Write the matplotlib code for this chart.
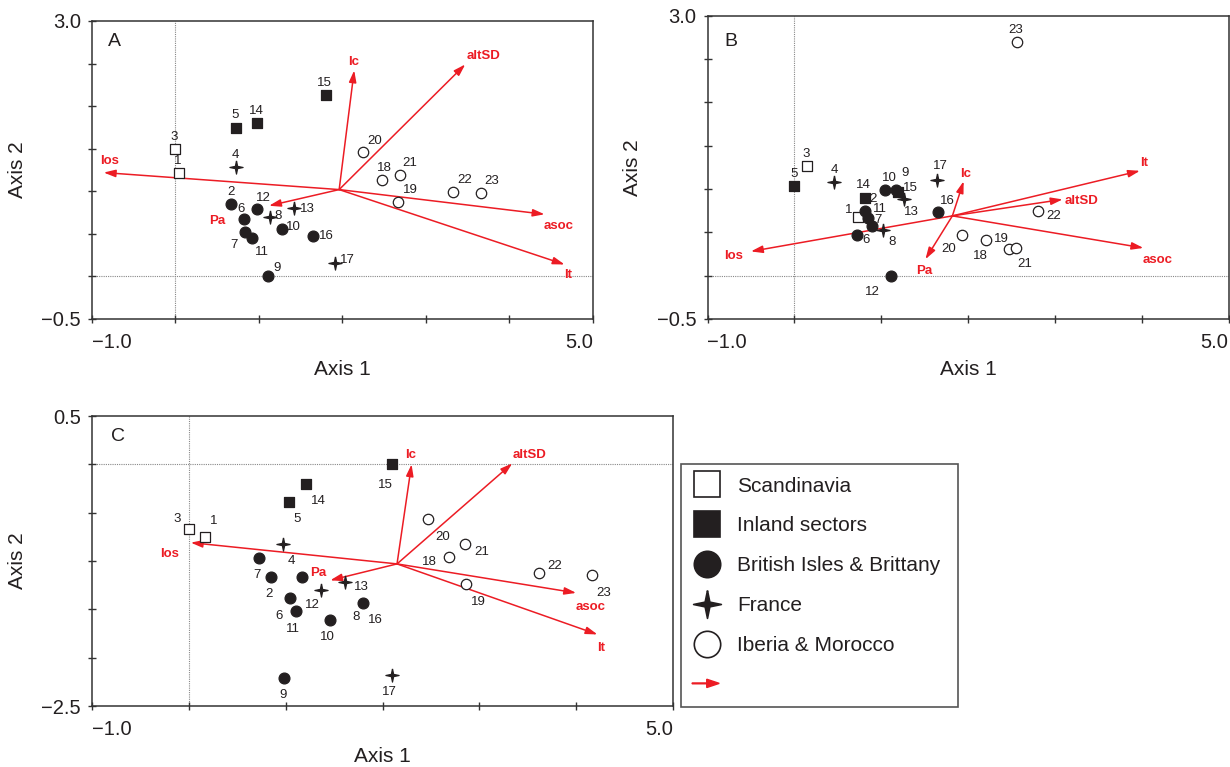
import numpy as np
import matplotlib
matplotlib.use('Agg')
import matplotlib.pyplot as plt
import matplotlib.patches as mpatches
from matplotlib.lines import Line2D
from matplotlib.legend_handler import HandlerPatch

plt.rcParams['font.family'] = ['Liberation Sans', 'DejaVu Sans']

# sites 1..23 and their region
sites = list(range(1, 24))
groups = ['Scandinavia', 'British Isles & Brittany', 'Scandinavia', 'France', 'Inland sectors',
          'British Isles & Brittany', 'British Isles & Brittany', 'France', 'British Isles & Brittany',
          'British Isles & Brittany', 'British Isles & Brittany', 'British Isles & Brittany', 'France',
          'Inland sectors', 'Inland sectors', 'British Isles & Brittany', 'France',
          'Iberia & Morocco', 'Iberia & Morocco', 'Iberia & Morocco', 'Iberia & Morocco',
          'Iberia & Morocco', 'Iberia & Morocco']

# site scores, panel A
a_x = [0.04, 0.66, 0.00, 0.73, 0.72, 0.82, 0.83, 1.13, 1.11, 1.27, 0.92, 0.98,
       1.42, 0.98, 1.80, 1.65, 1.91, 2.47, 2.67, 2.24, 2.69, 3.32, 3.66]
a_y = [1.22, 0.85, 1.50, 1.28, 1.74, 0.67, 0.52, 0.70, 0.00, 0.56, 0.45, 0.79,
       0.80, 1.80, 2.13, 0.47, 0.16, 1.13, 0.87, 1.46, 1.19, 0.99, 0.98]
# panel B
b_x = [0.73, 0.81, 0.15, 0.46, 0.00, 0.72, 0.90, 1.02, 1.17, 1.04, 0.85, 1.11,
       1.26, 0.81, 1.19, 1.66, 1.64, 2.21, 2.47, 1.93, 2.55, 2.81, 2.56]
b_y = [0.68, 0.75, 1.26, 1.08, 1.04, 0.47, 0.57, 0.53, 0.99, 0.99, 0.66, 0.00,
       0.89, 0.90, 0.97, 0.74, 1.10, 0.41, 0.31, 0.47, 0.32, 0.75, 2.70]
# panel C
c_x = [0.17, 0.85, 0.00, 0.97, 1.03, 1.04, 0.72, 1.36, 0.98, 1.46, 1.11, 1.17,
       1.61, 1.21, 2.10, 1.80, 2.10, 2.69, 2.86, 2.47, 2.85, 3.62, 4.16]
c_y = [-0.75, -1.17, -0.67, -0.82, -0.39, -1.38, -0.97, -1.30, -2.21, -1.61, -1.52, -1.17,
       -1.22, -0.20, 0.00, -1.43, -2.18, -0.96, -1.24, -0.57, -0.82, -1.12, -1.14]

# environmental vectors
variables = ['Ic', 'altSD', 'Ios', 'asoc', 'It', 'Pa']
a_origin = (1.96, 1.02)
a_tip_x = [2.14, 3.47, -0.86, 4.42, 4.66, 1.12]
a_tip_y = [2.42, 2.49, 1.22, 0.73, 0.14, 0.83]
b_origin = (1.82, 0.69)
b_tip_x = [1.95, 3.09, -0.50, 4.02, 3.98, 1.51]
b_tip_y = [1.09, 0.88, 0.28, 0.32, 1.21, 0.19]
c_origin = (2.15, -1.03)
c_tip_x = [2.30, 3.34, 0.02, 4.00, 4.22, 1.46]
c_tip_y = [0.00, 0.01, -0.81, -1.33, -1.76, -1.20]

# label placement (pixel offsets from the point)
a_lab = [(-1, 12), (0, 12), (-1, 12), (-1, 12), (-1, 13), (-3, 10), (-11, -13), (8, 1), (9, 8),
         (12, 2), (10, -14), (6, 11), (13, -1), (-1, 12), (-1, 12), (13, 0), (12, 3), (3, 12),
         (12, 12), (12, 11), (10, 12), (12, 12), (11, 12)]
b_lab = [(-9, 7), (8, 12), (-1, 12), (0, 12), (0, 12), (9, -5), (6, 6), (9, -12), (9, 17),
         (5, 12), (12, 9), (-18, -16), (8, -13), (-1, 13), (13, 4), (9, 11), (4, 14), (-6, -16),
         (-7, 10), (-13, -14), (9, -16), (15, -5), (-1, 12)]
c_lab = [(8, 16), (-2, -17), (-12, 10), (9, -17), (9, -17), (-10, -18), (-2, -17), (36, -27),
         (-1, -17), (-3, -17), (-3, -18), (10, -28), (17, -5), (12, -17), (-7, -21), (12, -17),
         (-3, -17), (-20, -5), (13, -18), (15, -18), (17, -8), (15, 7), (12, -18)]
a_vlab = [(-1, 8), (18, 8), (6, 12), (14, -12), (4, -10), (-52, -15)]
b_vlab = [(2, 7), (19, -2), (-17, -5), (14, -12), (4, 8), (-1, -12)]
c_vlab = [(-1, 9), (17, 8), (-21, -11), (14, -14), (4, -14), (-12, 7)]

black = '#231f20'
red = '#ec1c24'
star = [(0, 1), (0.17, 0.17), (1, 0), (0.17, -0.17), (0, -1), (-0.17, -0.17), (-1, 0), (-0.17, 0.17), (0, 1)]
styles = {
    'Scandinavia': dict(marker='s', fc='white', size=7.5),
    'Inland sectors': dict(marker='s', fc=black, size=7.5),
    'British Isles & Brittany': dict(marker='o', fc=black, size=7.8),
    'France': dict(marker=star, fc=black, size=9.5),
    'Iberia & Morocco': dict(marker='o', fc='white', size=7.5),
}

W, H = 1230, 767
fig = plt.figure(figsize=(W / 100, H / 100), dpi=100)


def add_panel(rect_px, letter, xs, ys, lab, origin, tx, ty, vlab, ylim, yticks, ylab_txt):
    l, t, r, b = rect_px
    ax = fig.add_axes([l / W, 1 - b / H, (r - l) / W, (b - t) / H])
    ax.set_xlim(-1, 5)
    ax.set_ylim(*ylim)
    ax.axvline(0, color='#888888', lw=0.8, ls=(0, (1, 1)), zorder=1)
    ax.axhline(0, color='#888888', lw=0.8, ls=(0, (1, 1)), zorder=1)

    # vectors
    for name, x1, y1, off in zip(variables, tx, ty, vlab):
        ax.annotate('', xy=(x1, y1), xytext=origin,
                    arrowprops=dict(arrowstyle='-|>,head_length=0.7,head_width=0.22',
                                    color=red, lw=1.1, shrinkA=0, shrinkB=0), zorder=2)
        ax.annotate(name, xy=(x1, y1), xytext=off, textcoords='offset pixels',
                    ha='center', va='center', color=red, fontsize=9.5, fontweight='bold')

    # sites
    for s, g, x, y, off in zip(sites, groups, xs, ys, lab):
        st = styles[g]
        ax.scatter([x], [y], marker=st['marker'], s=st['size'] ** 2, facecolor=st['fc'],
                   edgecolor=black, linewidth=0.9, zorder=3)
        ax.annotate(str(s), xy=(x, y), xytext=off, textcoords='offset pixels',
                    ha='center', va='center', fontsize=9.5, color=black, zorder=4)

    ax.text(0.044, 0.93 if letter != 'B' else 0.914, letter, transform=ax.transAxes,
            fontsize=14, ha='center', va='center', color=black)

    ax.set_xticks(np.arange(-1, 5.01, 1))
    ax.set_xticklabels(['\u22121.0', '', '', '', '', '', '5.0'])
    xl = ax.get_xticklabels()
    xl[0].set_ha('left')
    xl[-1].set_ha('right')
    ax.set_yticks(yticks)
    ylabels = [''] * len(yticks)
    ylabels[0] = ylab_txt[0]
    ylabels[-1] = ylab_txt[1]
    ax.set_yticklabels(ylabels)
    ax.tick_params(direction='inout', length=6, width=1, color='#333333',
                   labelsize=14.5, labelcolor=black)
    ax.tick_params(axis='x', pad=7)
    ax.tick_params(axis='y', pad=5)
    for sp in ax.spines.values():
        sp.set_color('#333333')
        sp.set_linewidth(1.1)

    ax.set_xlabel('Axis 1', fontsize=15, color=black)
    ax.set_ylabel('Axis 2', fontsize=15, color=black)
    ax.xaxis.set_label_coords(0.5, -41 / (b - t))
    ax.yaxis.set_label_coords(-65 / (r - l), 0.5)
    return ax


add_panel((92, 21, 593, 319), 'A', a_x, a_y, a_lab, a_origin, a_tip_x, a_tip_y, a_vlab,
          (-0.5, 3.0), np.arange(-0.5, 3.01, 0.5), ('\u22120.5', '3.0'))
add_panel((707.5, 15.7, 1228.5, 319), 'B', b_x, b_y, b_lab, b_origin, b_tip_x, b_tip_y, b_vlab,
          (-0.5, 3.0), np.arange(-0.5, 3.01, 0.5), ('\u22120.5', '3.0'))
add_panel((92, 416, 673, 706), 'C', c_x, c_y, c_lab, c_origin, c_tip_x, c_tip_y, c_vlab,
          (-2.5, 0.5), np.arange(-2.5, 0.51, 0.5), ('\u22122.5', '0.5'))

# legend
handles = []
for g in ['Scandinavia', 'Inland sectors', 'British Isles & Brittany', 'France', 'Iberia & Morocco']:
    st = styles[g]
    handles.append(Line2D([], [], ls='', marker=st['marker'], markersize=19 if st['marker'] != star else 20,
                          markerfacecolor=st['fc'], markeredgecolor=black, markeredgewidth=1.2))
arrow_handle = mpatches.Patch(color=red)


def make_arrow(legend, orig_handle, xdescent, ydescent, width, height, fontsize):
    return mpatches.FancyArrow(-0.05 * width - xdescent, 0.5 * height - ydescent, 1.0 * width, 0,
                               width=0.6, head_width=6, head_length=9,
                               length_includes_head=True, color=red)


handles.append(arrow_handle)
labels = ['Scandinavia', 'Inland sectors', 'British Isles & Brittany', 'France', 'Iberia & Morocco', '']
leg = fig.legend(handles, labels, loc='upper left',
                 bbox_to_anchor=(681 / W, 1 - 707 / H, 277 / W, (707 - 464) / H),
                 mode='expand', fontsize=15, labelspacing=1.0, borderpad=0.6,
                 handlelength=1.3, handletextpad=0.8, borderaxespad=0,
                 fancybox=False, framealpha=1, edgecolor='#555555',
                 handler_map={mpatches.Patch: HandlerPatch(patch_func=make_arrow)})
leg.get_frame().set_linewidth(1.2)
for t in leg.get_texts():
    t.set_color(black)

fig.savefig('out.png', dpi=100)
